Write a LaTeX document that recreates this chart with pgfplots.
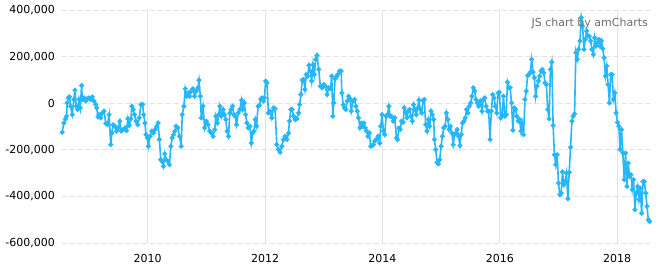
\documentclass[border=0pt]{standalone}
\usepackage{pgfplots}
\pgfplotsset{compat=1.18}
\usepackage{pgfplotstable}
\usepackage{fontspec}
\setmainfont{DejaVu Sans}
\definecolor{linec}{RGB}{38,182,250}
\definecolor{gridc}{RGB}{226,226,226}
\definecolor{wmark}{RGB}{110,110,110}
\pgfplotstableread{
x y
2008.543 -125000
2008.571 -85000
2008.600 -67000
2008.617 -56000
2008.629 1000
2008.646 23000
2008.669 27000
2008.686 -13000
2008.714 -49000
2008.743 16000
2008.760 56000
2008.783 -13000
2008.806 -27000
2008.829 16000
2008.851 -20000
2008.874 76000
2008.886 16000
2008.914 23000
2008.943 9000
2008.971 19000
2009.000 23000
2009.029 16000
2009.057 27000
2009.086 9000
2009.114 -6000
2009.131 -20000
2009.154 -59000
2009.171 -49000
2009.200 -63000
2009.229 -42000
2009.257 -34000
2009.286 -87000
2009.314 -92000
2009.343 -49000
2009.371 -178000
2009.389 -128000
2009.411 -92000
2009.440 -99000
2009.469 -120000
2009.497 -106000
2009.526 -77000
2009.549 -120000
2009.583 -113000
2009.617 -106000
2009.640 -118000
2009.663 -67000
2009.686 -96000
2009.714 -67000
2009.731 -13000
2009.754 -27000
2009.777 -49000
2009.800 -77000
2009.829 -92000
2009.857 -63000
2009.886 -6000
2009.914 -6000
2009.931 -49000
2009.954 -85000
2009.971 -135000
2009.994 -149000
2010.011 -185000
2010.040 -142000
2010.069 -120000
2010.097 -128000
2010.126 -113000
2010.154 -99000
2010.177 -85000
2010.200 -156000
2010.223 -242000
2010.246 -250000
2010.269 -271000
2010.291 -217000
2010.314 -242000
2010.343 -250000
2010.371 -264000
2010.394 -185000
2010.417 -149000
2010.440 -135000
2010.463 -120000
2010.486 -99000
2010.514 -106000
2010.543 -142000
2010.571 -185000
2010.589 -49000
2010.617 -13000
2010.640 62000
2010.669 30000
2010.691 44000
2010.714 30000
2010.743 52000
2010.771 62000
2010.800 30000
2010.829 52000
2010.857 66000
2010.874 99000
2010.897 30000
2010.914 -63000
2010.943 -13000
2010.971 -106000
2011.000 -77000
2011.029 -92000
2011.057 -120000
2011.086 -128000
2011.114 -142000
2011.143 -113000
2011.160 -56000
2011.189 -85000
2011.211 -49000
2011.229 -13000
2011.257 -56000
2011.286 -27000
2011.309 -49000
2011.331 -70000
2011.354 -120000
2011.377 -142000
2011.400 -42000
2011.423 -27000
2011.446 -13000
2011.469 -49000
2011.491 -56000
2011.514 -92000
2011.543 -42000
2011.571 -27000
2011.600 13000
2011.617 -27000
2011.646 1000
2011.669 -49000
2011.691 -85000
2011.714 -106000
2011.743 -99000
2011.766 -171000
2011.789 -128000
2011.811 -120000
2011.834 -70000
2011.857 -99000
2011.880 -13000
2011.903 -10000
2011.926 16000
2011.949 23000
2011.971 9000
2011.989 23000
2012.011 95000
2012.034 87000
2012.057 -42000
2012.086 -34000
2012.114 -63000
2012.143 -20000
2012.171 -24000
2012.200 -178000
2012.229 -199000
2012.257 -211000
2012.286 -185000
2012.314 -156000
2012.343 -142000
2012.371 -156000
2012.400 -128000
2012.417 -77000
2012.440 -27000
2012.463 -27000
2012.486 -56000
2012.514 -70000
2012.543 -67000
2012.571 -42000
2012.589 -6000
2012.611 37000
2012.634 99000
2012.657 102000
2012.680 59000
2012.703 123000
2012.726 116000
2012.749 162000
2012.771 138000
2012.794 95000
2012.817 166000
2012.840 123000
2012.863 188000
2012.886 205000
2012.914 145000
2012.943 73000
2012.971 66000
2013.000 80000
2013.029 73000
2013.057 37000
2013.086 66000
2013.114 62000
2013.137 116000
2013.154 -56000
2013.171 1000
2013.194 105000
2013.217 113000
2013.240 123000
2013.269 138000
2013.297 138000
2013.309 44000
2013.331 -6000
2013.354 -20000
2013.377 -27000
2013.400 9000
2013.423 30000
2013.446 19000
2013.469 -34000
2013.497 9000
2013.526 16000
2013.549 -13000
2013.571 -34000
2013.594 -63000
2013.617 -106000
2013.640 -85000
2013.663 -99000
2013.686 -85000
2013.709 -106000
2013.731 -120000
2013.754 -142000
2013.777 -128000
2013.800 -185000
2013.823 -182000
2013.846 -178000
2013.869 -163000
2013.897 -156000
2013.926 -142000
2013.954 -171000
2013.971 -99000
2013.994 -49000
2014.017 -120000
2014.040 -135000
2014.063 -56000
2014.086 -49000
2014.109 -13000
2014.131 -56000
2014.154 -56000
2014.183 -77000
2014.211 -63000
2014.240 -149000
2014.257 -156000
2014.280 -106000
2014.303 -113000
2014.326 -77000
2014.354 -82000
2014.371 -20000
2014.394 -42000
2014.417 -63000
2014.440 -34000
2014.463 -27000
2014.486 -56000
2014.509 -77000
2014.531 -6000
2014.554 -27000
2014.577 -49000
2014.600 -20000
2014.623 13000
2014.646 -27000
2014.669 -42000
2014.691 11000
2014.714 16000
2014.737 -92000
2014.760 -120000
2014.783 -70000
2014.806 -99000
2014.829 -34000
2014.851 -49000
2014.874 -70000
2014.886 -156000
2014.909 -199000
2014.931 -254000
2014.954 -261000
2014.977 -242000
2015.000 -185000
2015.023 -142000
2015.046 -106000
2015.069 -99000
2015.091 -42000
2015.114 -70000
2015.137 -113000
2015.160 -99000
2015.183 -128000
2015.206 -178000
2015.229 -135000
2015.251 -128000
2015.274 -113000
2015.297 -142000
2015.320 -182000
2015.343 -135000
2015.366 -85000
2015.389 -77000
2015.411 -63000
2015.434 -27000
2015.457 -42000
2015.480 -13000
2015.503 1000
2015.526 30000
2015.549 66000
2015.571 52000
2015.594 16000
2015.617 1000
2015.640 -13000
2015.669 9000
2015.697 -34000
2015.720 16000
2015.743 23000
2015.766 -13000
2015.789 -34000
2015.811 -34000
2015.834 -156000
2015.857 -34000
2015.880 37000
2015.903 23000
2015.926 -13000
2015.949 -42000
2015.971 44000
2015.994 47000
2016.017 -63000
2016.040 -49000
2016.063 30000
2016.086 -56000
2016.109 -49000
2016.131 90000
2016.154 66000
2016.177 66000
2016.200 1000
2016.223 -116000
2016.246 -20000
2016.269 -27000
2016.291 -56000
2016.314 -77000
2016.337 -70000
2016.360 -120000
2016.383 -85000
2016.406 -135000
2016.429 16000
2016.451 52000
2016.474 119000
2016.497 123000
2016.520 133000
2016.543 188000
2016.566 133000
2016.589 109000
2016.611 30000
2016.634 73000
2016.657 95000
2016.680 116000
2016.703 138000
2016.726 145000
2016.749 130000
2016.771 87000
2016.794 80000
2016.817 -27000
2016.840 -67000
2016.863 145000
2016.886 176000
2016.909 -96000
2016.931 -221000
2016.954 -264000
2016.977 -221000
2017.000 -343000
2017.023 -393000
2017.046 -386000
2017.069 -295000
2017.091 -350000
2017.114 -336000
2017.137 -300000
2017.160 -410000
2017.183 -297000
2017.206 -189000
2017.229 -77000
2017.251 -56000
2017.274 -46000
2017.297 217000
2017.320 188000
2017.343 231000
2017.366 267000
2017.389 367000
2017.411 331000
2017.434 231000
2017.457 274000
2017.480 310000
2017.503 288000
2017.526 288000
2017.549 267000
2017.571 231000
2017.594 209000
2017.617 281000
2017.640 245000
2017.663 260000
2017.686 274000
2017.709 245000
2017.731 267000
2017.754 234000
2017.777 195000
2017.800 116000
2017.823 159000
2017.846 80000
2017.869 1000
2017.891 123000
2017.914 123000
2017.937 16000
2017.960 44000
2017.983 -42000
2018.006 -82000
2018.029 -99000
2018.051 -199000
2018.074 -113000
2018.097 -214000
2018.120 -328000
2018.143 -214000
2018.166 -357000
2018.189 -257000
2018.211 -314000
2018.234 -307000
2018.257 -371000
2018.280 -328000
2018.303 -457000
2018.326 -386000
2018.349 -357000
2018.371 -414000
2018.394 -364000
2018.417 -472000
2018.440 -336000
2018.463 -336000
2018.486 -386000
2018.509 -443000
2018.531 -500000
2018.554 -508000
}\series
\begin{document}
\begin{tikzpicture}[x=1pt,y=1pt]
\useasboundingbox (0,0) rectangle (663,271);
\begin{axis}[
  at={(62pt,28pt)}, anchor=south west,
  scale only axis, width=588pt, height=233pt,
  xmin=2008.54, xmax=2018.56, ymin=-600000, ymax=400000,
  axis line style={draw=none},
  tick style={draw=none},
  xtick={2010,2012,2014,2016,2018},
  xticklabels={2010,2012,2014,2016,2018},
  ytick={-600000,-400000,-200000,0,200000,400000},
  scaled y ticks=false,
  /pgf/number format/assume math mode=true,
  yticklabel style={/pgf/number format/fixed,/pgf/number format/1000 sep={,},
     anchor=east, inner sep=0pt, xshift=-7pt, font=\fontsize{11}{13}\selectfont},
  xticklabel style={anchor=base, inner sep=0pt, yshift=-19pt, font=\fontsize{11}{13}\selectfont},
  xmajorgrids, ymajorgrids,
  x grid style={gridc, line width=0.8pt},
  y grid style={gridc, line width=0.8pt, dash pattern=on 5pt off 3pt},
  clip=false,
]
\addplot[linec, line width=1.6pt, mark=*, mark size=1.6pt, mark options={fill=linec, draw=linec}] table[x=x,y=y] {\series};
\end{axis}
\node[anchor=east, text=wmark, font=\fontsize{11}{13}\selectfont, inner sep=0pt] at (648,248) {JS chart by amCharts};
\end{tikzpicture}
\end{document}
